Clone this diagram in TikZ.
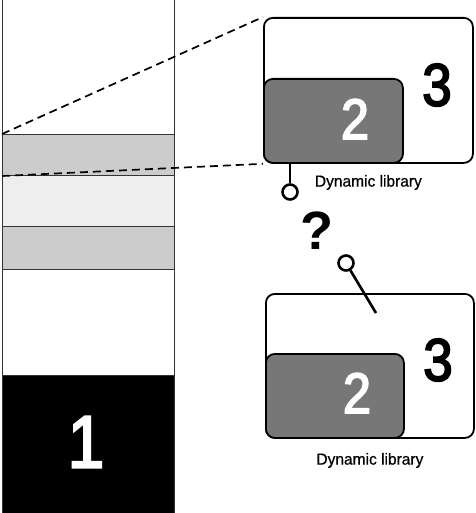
\documentclass[tikz,border=0pt]{standalone}
\usepackage{fontspec}
\setmainfont{Liberation Sans}
\newfontfamily\narrow[FakeStretch=0.88, FakeBold=3]{Liberation Sans}
\newfontfamily\labelfont[FakeStretch=0.97, FakeBold=0.6]{Liberation Sans}
\usetikzlibrary{positioning}
\definecolor{bandgray}{HTML}{CCCCCC}
\definecolor{palegray}{HTML}{EEEEEE}
\definecolor{libgray}{HTML}{777777}
\tikzstyle{seg} = [draw=black!80, line width=1pt, rectangle, minimum width=172pt, inner sep=0, anchor=north west]
\tikzstyle{outer} = [draw, line width=1.8pt, rounded corners=9pt, rectangle, inner sep=0, anchor=north west]
\tikzstyle{inner} = [outer, fill=libgray]
\tikzstyle{digit} = [font=\narrow\fontsize{60}{60}\selectfont, inner sep=0]
\tikzstyle{smalldigit} = [font=\narrow\fontsize{57}{57}\selectfont, inner sep=0, text=white]
\tikzstyle{caption} = [font=\labelfont\fontsize{16}{16}\selectfont, inner sep=0]
\tikzstyle{knob} = [draw, circle, line width=2.6pt, minimum size=15pt, inner sep=0]
\tikzstyle{zoomline} = [line width=1.7pt, dash pattern=on 8pt off 5pt]

\begin{document}
\begin{tikzpicture}[x=1pt, y=-1pt]
	  \useasboundingbox (0,0) rectangle (475,513);
	  % the address space column
	  \node [seg, minimum height=136pt] (free) at (2,-2) {};
	  \node [seg, fill=bandgray, minimum height=41pt] (bandA) at (2,134) {};
	  \node [seg, fill=palegray, minimum height=51pt] (mid) at (2,175) {};
	  \node [seg, fill=bandgray, minimum height=43pt] (bandB) at (2,226) {};
	  \node [seg, minimum height=106pt] (gap) at (2,269) {};
	  \node [seg, fill=black, minimum height=140pt] (exe) at (2,375) {};
	  \node [text=white, inner sep=0, font=\narrow\fontsize{74}{74}\selectfont]
	         (one) at (86,442) {1};

	  % upper module
	  \node [outer, minimum width=209pt, minimum height=145pt] (appA) at (263,17) {};
	  \node [inner, minimum width=139pt, minimum height=84pt] (libA) at (263,78) {};
	  \node [smalldigit] (twoA) at (355,119) {2};
	  \node [digit] (threeA) at (437,85) {3};
	  \node [caption, below=11pt of appA] (capA) {Dynamic library};

	  % lower module
	  \node [outer, minimum width=208pt, minimum height=144pt] (appB) at (265,293) {};
	  \node [inner, minimum width=138pt, minimum height=84pt] (libB) at (265,353) {};
	  \node [smalldigit] (twoB) at (357,393) {2};
	  \node [digit] (threeB) at (438,360) {3};
	  \node [caption, below=14pt of appB] (capB) {Dynamic library};

	  % plugs
	  \node [knob] (plugA) at (290,192) {};
	  \node [knob] (plugB) at (346,263) {};
	  \coordinate (tip) at (376,313);
	  \node [font=\bfseries\fontsize{54}{54}\selectfont, inner sep=0] (ask) at (317,231) {?};

	  \draw [zoomline] (bandA.north west) -- (appA.north west);
	  \draw [zoomline] (bandA.south west) -- (appA.south west);
	  \draw [line width=2.6pt] (plugA.north) -- (plugA.north |- libA.south);
	  \draw [line width=2.6pt] (plugB) -- (tip);
	\end{tikzpicture}
\end{document}
